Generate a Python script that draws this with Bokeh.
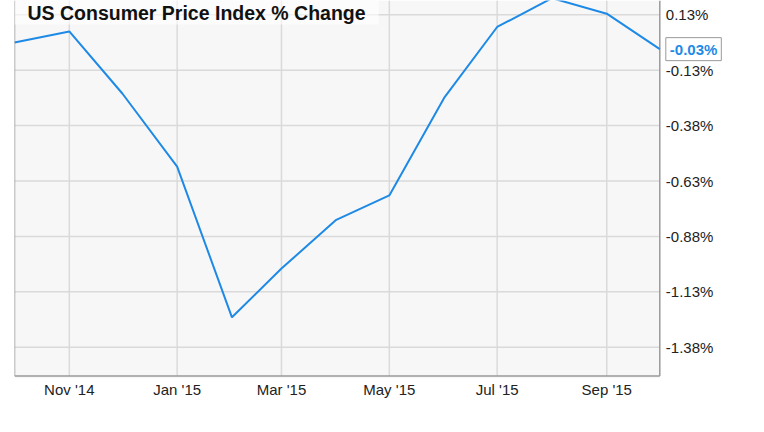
import pandas as pd
from bokeh.plotting import figure
from bokeh.models import ColumnDataSource, Range1d, FixedTicker, DatetimeTickFormatter, Label, BoxAnnotation
from bokeh.core.properties import value
from bokeh.embed import file_html
from bokeh.resources import INLINE

# ---- data ----
months = ["2014-10-01", "2014-11-01", "2014-12-01", "2015-01-01", "2015-02-01",
          "2015-03-01", "2015-04-01", "2015-05-01", "2015-06-01", "2015-07-01",
          "2015-08-01", "2015-09-01", "2015-10-01"]
cpi_change = [0.00, 0.05, -0.23, -0.56, -1.24, -1.02, -0.80, -0.69, -0.25, 0.07, 0.20, 0.13, -0.03]
x_tick_dates = ["2014-11-01", "2015-01-01", "2015-03-01", "2015-05-01", "2015-07-01", "2015-09-01"]
y_ticks = [0.125, -0.125, -0.375, -0.625, -0.875, -1.125, -1.375]
y_tick_labels = ["0.13%", "-0.13%", "-0.38%", "-0.63%", "-0.88%", "-1.13%", "-1.38%"]
title_text = "US Consumer Price Index % Change"

# ---- styling / layout ----
FONT = "Liberation Sans"
BLUE = "#1e8ae6"
GRID = "#dadada"
FRAME = "#9a9a9a"
W, H = 748, 416
LEFT, PLOT_RIGHT, BOTTOM = 14, 659.3, 38      # px
y_floor = -1.505                               # value at the drawn bottom border
y_lo, y_hi = -1.516, 0.1895                    # visible value range

def ms(d):
    return pd.Timestamp(d).timestamp() * 1000.0

x0, x1 = ms(months[0]), ms(months[-1])
x_end = x0 + (x1 - x0) * (W - LEFT) / (PLOT_RIGHT - LEFT)   # frame runs to the canvas edge

src = ColumnDataSource(dict(date=[ms(m) for m in months], value=cpi_change))

p = figure(width=W, height=H, x_axis_type="datetime", y_axis_location=None,
           output_backend="svg", toolbar_location=None,
           x_range=Range1d(x0, x_end), y_range=Range1d(y_lo, y_hi),
           min_border_left=LEFT, min_border_right=0, min_border_top=0, min_border_bottom=BOTTOM)

p.background_fill_color = "white"
p.border_fill_color = "white"
p.outline_line_color = None
p.xgrid.visible = False
p.ygrid.visible = False

# plot-area background
p.add_layout(BoxAnnotation(left=x0, right=x1, fill_color="#f7f7f7", fill_alpha=1.0,
                           line_color=None, level="underlay"))

# x axis (labels only)
xt = [ms(d) for d in x_tick_dates]
p.xaxis.ticker = FixedTicker(ticks=xt)
p.xaxis.formatter = DatetimeTickFormatter(days="%b '%y", months="%b '%y", years="%b '%y")
p.xaxis.axis_line_color = None
p.xaxis.major_tick_line_color = None
p.xaxis.minor_tick_line_color = None
p.xaxis.major_tick_out = 0
p.xaxis.major_tick_in = 0
p.xaxis.major_label_standoff = 2
p.xaxis.major_label_text_font = FONT
p.xaxis.major_label_text_font_size = "15px"
p.xaxis.major_label_text_color = "#222222"

# grid lines (stop at the plot area's right edge)
p.segment(x0=[x0] * len(y_ticks), x1=[x1] * len(y_ticks), y0=y_ticks, y1=y_ticks,
          line_color=GRID, line_width=1.5)
p.segment(x0=xt, x1=xt, y0=[y_floor] * len(xt), y1=[y_hi] * len(xt),
          line_color=GRID, line_width=1.5)

# frame borders: left, right, bottom
p.segment(x0=[x0, x1, x0], x1=[x0, x1, x1], y0=[y_floor, y_floor, y_floor], y1=[y_hi, y_hi, y_floor],
          line_color=FRAME, line_width=1.5)

# y tick labels at the right of the plot area
p.text(x=[x1] * len(y_ticks), y=y_ticks, text=y_tick_labels, x_offset=6,
       text_align="left", text_baseline="middle", text_font=value(FONT),
       text_font_size="15px", text_color="#222222")

# data line
p.line("date", "value", source=src, line_color=BLUE, line_width=2)

# last value callout
p.add_layout(Label(x=x1, y=cpi_change[-1], x_offset=6, text=f"{cpi_change[-1]:.2f}%",
                   text_baseline="middle", text_font=FONT, text_font_size="15px",
                   text_font_style="bold", text_color=BLUE,
                   background_fill_color="white", border_line_color=FRAME,
                   border_line_width=1, padding=(4, 3)))

# title
p.add_layout(Label(x=0, y=H - BOTTOM, x_units="screen", y_units="screen", text=title_text,
                   text_baseline="top", text_font=FONT, text_font_size="19.5px",
                   text_font_style="bold", text_color="#111111",
                   background_fill_color="white", background_fill_alpha=0.6,
                   padding=(13, 1)))

open("out.html", "w").write(file_html(p, INLINE))
